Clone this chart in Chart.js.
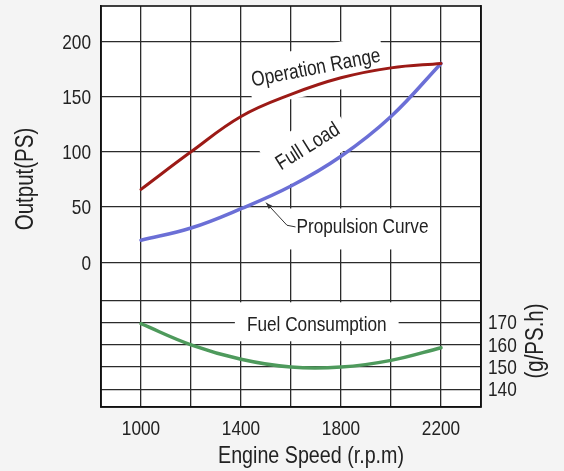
<!DOCTYPE html>
<html>
<head>
<meta charset="utf-8">
<script src="https://cdn.jsdelivr.net/npm/chart.js@4"></script>
<style>
  html, body { margin: 0; padding: 0; background: #f4f4f4; }
  #wrap { width: 564px; height: 471px; }
</style>
</head>
<body>
<div id="wrap"><canvas id="engineChart"></canvas></div>
<script>
const rpm = [1000, 1200, 1400, 1600, 1800, 2000, 2200];
const operationRange = [66, 100, 132, 152, 167, 176, 180];
const propulsion = [20, 31, 48.5, 69, 96, 132, 180];
const fuelConsumption = [169.5, 160, 153.5, 150, 150, 153, 158.7];

const xTicks = [1000, 1200, 1400, 1600, 1800, 2000, 2200];
const xLabels = [1000, 1400, 1800, 2200];
const outputTicks = [0, 50, 100, 150, 200];
const fuelTicks = [140, 150, 160, 170, 180];
const fuelLabels = [140, 150, 160, 170];

// condensed look: Liberation Sans squeezed horizontally
const FONT = '"Liberation Sans", Arial, sans-serif';
const SQUEEZE = 0.82;
const gridColor = '#2b2b2b';

// text labels placed on the chart, anchored to axis values
const notes = [
    { text: 'Operation Range', x: 1700, y: 175.6, axis: 'y', angle: -11, padX: 3, padY: 13, dy: 2 },
    { text: 'Full Load', x: 1668, y: 104.6, axis: 'y', angle: -32, padX: 8, padY: 12, dy: 0 },
    { text: 'Propulsion Curve', x: 1886, y: 32, axis: 'y', angle: 0, padX: 9, padY: 10, dy: 2 },
    { text: 'Fuel Consumption', x: 1703, y: 169, axis: 'y2', angle: 0, padX: 12, padY: 9, dy: -3 }
];

function toPoints(values) {
    return rpm.map((r, i) => ({ x: r, y: values[i] }));
}

function narrowText(ctx, text, x, y, size, align, angle) {
    ctx.save();
    ctx.font = size + 'px ' + FONT;
    ctx.textAlign = align;
    ctx.textBaseline = 'middle';
    ctx.translate(x, y);
    ctx.rotate(angle || 0);
    ctx.scale(SQUEEZE, 1);
    ctx.fillText(text, 0, 0);
    ctx.restore();
}

const decorations = {
    id: 'decorations',
    beforeDraw(chart) {
        const { ctx, chartArea: a } = chart;
        ctx.save();
        ctx.fillStyle = '#f4f4f4';
        ctx.fillRect(0, 0, chart.width, chart.height);
        ctx.fillStyle = '#ffffff';
        ctx.fillRect(a.left, a.top, a.right - a.left, a.bottom - a.top);
        ctx.restore();
    },
    beforeDatasetsDraw(chart) {
        const { ctx, scales } = chart;
        ctx.save();
        ctx.font = '21px ' + FONT;
        ctx.fillStyle = '#ffffff';
        notes.forEach(n => {
            const px = scales.x.getPixelForValue(n.x);
            const py = scales[n.axis].getPixelForValue(n.y);
            const w = ctx.measureText(n.text).width * SQUEEZE + n.padX * 2;
            const h = 21 + n.padY * 2;
            ctx.save();
            ctx.translate(px, py);
            ctx.rotate(n.angle * Math.PI / 180);
            ctx.fillRect(-w / 2, -h / 2 + n.dy, w, h);
            ctx.restore();
        });
        ctx.restore();
    },
    afterDatasetsDraw(chart) {
        const { ctx, scales } = chart;
        ctx.save();
        ctx.fillStyle = '#222';
        notes.forEach(n => {
            const px = scales.x.getPixelForValue(n.x);
            const py = scales[n.axis].getPixelForValue(n.y);
            narrowText(ctx, n.text, px, py, 21, 'center', n.angle * Math.PI / 180);
        });

        // leader from the propulsion curve to its label
        const p = (x, y) => [scales.x.getPixelForValue(x), scales.y.getPixelForValue(y)];
        const a = p(1500, 54), b = p(1584, 33.5), c = p(1618, 32);
        ctx.strokeStyle = '#333';
        ctx.lineWidth = 1;
        ctx.beginPath();
        ctx.moveTo(a[0], a[1]);
        ctx.lineTo(b[0], b[1]);
        ctx.lineTo(c[0], c[1]);
        ctx.stroke();
        const ang = Math.atan2(b[1] - a[1], b[0] - a[0]);
        ctx.fillStyle = '#333';
        ctx.beginPath();
        ctx.moveTo(a[0], a[1]);
        ctx.lineTo(a[0] + 7 * Math.cos(ang - 0.35), a[1] + 7 * Math.sin(ang - 0.35));
        ctx.lineTo(a[0] + 7 * Math.cos(ang + 0.35), a[1] + 7 * Math.sin(ang + 0.35));
        ctx.closePath();
        ctx.fill();
        ctx.restore();
    },
    afterDraw(chart) {
        const { ctx, chartArea: a, scales } = chart;
        ctx.save();
        ctx.strokeStyle = '#111';
        ctx.lineWidth = 1.6;
        ctx.strokeRect(a.left, a.top, a.right - a.left, a.bottom - a.top);

        // tick labels, taken from each scale's own ticks
        ctx.fillStyle = '#222';
        scales.x.ticks.forEach(t => {
            if (xLabels.includes(t.value)) {
                narrowText(ctx, String(t.value), scales.x.getPixelForValue(t.value), a.bottom + 22, 21, 'center');
            }
        });
        scales.y.ticks.forEach(t => {
            narrowText(ctx, String(t.value), a.left - 10, scales.y.getPixelForValue(t.value) + 1.5, 21, 'right');
        });
        scales.y2.ticks.forEach(t => {
            if (fuelLabels.includes(t.value)) {
                narrowText(ctx, String(t.value), a.right + 7, scales.y2.getPixelForValue(t.value) + 1, 21, 'left');
            }
        });

        // axis titles
        narrowText(ctx, 'Engine Speed (r.p.m)', 311, 456, 24, 'center');
        narrowText(ctx, 'Output(PS)', 26, 179, 25, 'center', -Math.PI / 2);
        narrowText(ctx, '(g/PS.h)', 536, 341, 25, 'center', -Math.PI / 2);
        ctx.restore();
    }
};

const noPad = s => { s.paddingTop = 0; s.paddingBottom = 0; s.paddingLeft = 0; s.paddingRight = 0; };

const ctx = document.getElementById('engineChart').getContext('2d');
new Chart(ctx, {
    type: 'line',
    data: {
        datasets: [
            { label: 'Operation Range', data: toPoints(operationRange), borderColor: '#9c1a16', borderWidth: 3, yAxisID: 'y' },
            { label: 'Full Load / Propulsion Curve', data: toPoints(propulsion), borderColor: '#6b6fd6', borderWidth: 3.5, yAxisID: 'y' },
            { label: 'Fuel Consumption', data: toPoints(fuelConsumption), borderColor: '#4e9a5c', borderWidth: 3.5, yAxisID: 'y2' }
        ]
    },
    options: {
        responsive: true,
        maintainAspectRatio: false,
        animation: false,
        devicePixelRatio: 1,
        layout: { padding: { top: 6, left: 0, right: 0, bottom: 0 } },
        elements: {
            point: { radius: 0 },
            line: { tension: 0.4, fill: false, borderCapStyle: 'round' }
        },
        plugins: { legend: { display: false }, tooltip: { enabled: false } },
        scales: {
            x: {
                type: 'linear',
                position: 'bottom',
                min: 840,
                max: 2360,
                afterBuildTicks: s => { s.ticks = xTicks.map(v => ({ value: v })); },
                afterFit: s => { s.height = 64; noPad(s); },
                grid: { color: gridColor, lineWidth: 1.3, drawTicks: false },
                border: { display: true, color: '#111', width: 1.6 },
                ticks: { display: false }
            },
            y: {
                position: 'left',
                min: -131,
                max: 232,
                afterBuildTicks: s => { s.ticks = outputTicks.map(v => ({ value: v })); },
                afterFit: s => { s.width = 101; noPad(s); },
                grid: { color: gridColor, lineWidth: 1.3, drawTicks: false },
                border: { display: true, color: '#111', width: 1.6 },
                ticks: { display: false }
            },
            y2: {
                position: 'right',
                min: 132,
                max: 312.5,
                afterBuildTicks: s => { s.ticks = fuelTicks.map(v => ({ value: v })); },
                afterFit: s => { s.width = 83; noPad(s); },
                grid: { color: gridColor, lineWidth: 1.3, drawTicks: false },
                border: { display: true, color: '#111', width: 1.6 },
                ticks: { display: false }
            }
        }
    },
    plugins: [decorations]
});
</script>
</body>
</html>
